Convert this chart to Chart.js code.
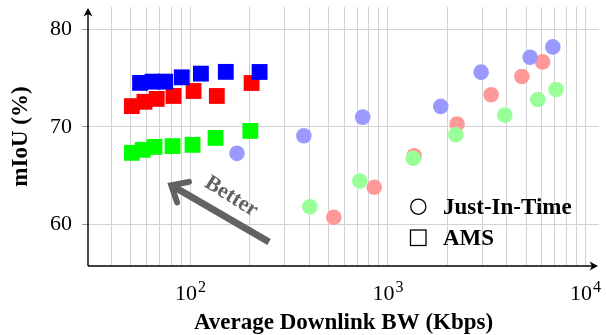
<!DOCTYPE html>
<html>
<head>
<meta charset="utf-8">
<script src="https://cdn.jsdelivr.net/npm/chart.js@4.4.0/dist/chart.umd.min.js"></script>
<style>
  html, body { margin: 0; padding: 0; background: #fff; }
  #wrap { width: 606px; height: 335px; }
</style>
</head>
<body>
<div id="wrap"><canvas id="chart" width="606" height="335"></canvas></div>
<script>
// Just-In-Time (circles)
const jitBlueBw = [172, 375, 745, 1850, 2960, 5240, 6830];
const jitBlueIou = [67.28, 69.08, 70.99, 72.09, 75.60, 77.13, 78.19];
const jitRedBw = [532, 852, 1356, 2238, 3327, 4759, 6057];
const jitRedIou = [60.73, 63.80, 67.03, 70.28, 73.28, 75.16, 76.65];
const jitGreenBw = [402, 720, 1343, 2204, 3903, 5733, 7097];
const jitGreenIou = [61.81, 64.44, 66.77, 69.18, 71.20, 72.80, 73.83];

// AMS (squares)
const amsBlueBw = [55.6, 64.3, 74.5, 90.4, 113, 151, 224];
const amsBlueIou = [74.50, 74.63, 74.63, 75.07, 75.45, 75.63, 75.62];
const amsRedBw = [50.5, 58.5, 67.5, 82.1, 103.7, 136, 204];
const amsRedIou = [72.12, 72.56, 72.86, 73.16, 73.67, 73.16, 74.49];
const amsGreenBw = [50.5, 57.4, 65.8, 81.2, 102.5, 134, 201];
const amsGreenIou = [67.33, 67.64, 67.94, 68.02, 68.15, 68.86, 69.58];

const yTicks = [60, 70, 80];
const xMajorExps = [2, 3, 4];
const legendLabels = ["Just-In-Time", "AMS"];
const xTitle = "Average Downlink BW (Kbps)";
const yTitle = "mIoU (%)";
const arrowText = "Better";

const serif = "'Liberation Serif', 'Times New Roman', serif";

// grid lines at 40..90, 100..900, 1000..9000, 10000
const xGrid = [];
[10, 100, 1000].forEach(d => {
    for (let m = 1; m <= 9; m++) {
        if (d * m >= 40) xGrid.push(d * m);
    }
});
xGrid.push(10000);

function pts(xs, ys) {
    return xs.map((x, i) => ({ x: x, y: ys[i] }));
}

function arrowHead(ctx, x, y, angle) {
    ctx.save();
    ctx.translate(x, y);
    ctx.rotate(angle);
    ctx.beginPath();
    ctx.moveTo(0, 0);
    ctx.lineTo(-8.5, -4.6);
    ctx.lineTo(-6, 0);
    ctx.lineTo(-8.5, 4.6);
    ctx.closePath();
    ctx.fillStyle = "#000";
    ctx.fill();
    ctx.restore();
}

const extrasPlugin = {
    id: "extras",
    afterDraw(chart) {
        const ctx = chart.ctx;
        const area = chart.chartArea;
        const xs = chart.scales.x;
        const ys = chart.scales.y;

        // axis lines with arrows
        ctx.save();
        ctx.strokeStyle = "#000";
        ctx.lineWidth = 1.4;
        ctx.beginPath();
        ctx.moveTo(area.left, area.bottom);
        ctx.lineTo(area.left, area.top + 3);
        ctx.moveTo(area.left, area.bottom);
        ctx.lineTo(area.right - 3, area.bottom);
        ctx.stroke();
        arrowHead(ctx, area.left, area.top + 1, -Math.PI / 2);
        arrowHead(ctx, area.right - 1, area.bottom, 0);
        ctx.restore();

        // x tick labels 10^k
        ctx.save();
        ctx.fillStyle = "#000";
        ctx.textBaseline = "alphabetic";
        xMajorExps.forEach(e => {
            const px = xs.getPixelForValue(Math.pow(10, e));
            ctx.font = "22px " + serif;
            const w1 = ctx.measureText("10").width;
            ctx.font = "16px " + serif;
            const w2 = ctx.measureText(String(e)).width;
            const start = px - (w1 + w2 + 1) / 2;
            ctx.font = "22px " + serif;
            ctx.textAlign = "left";
            ctx.fillText("10", start, area.bottom + 34);
            ctx.font = "16px " + serif;
            ctx.fillText(String(e), start + w1 + 1, area.bottom + 25.5);
        });
        ctx.restore();

        // "Better" arrow
        const tx = xs.getPixelForValue(250), ty = ys.getPixelForValue(58.2);
        const hx = xs.getPixelForValue(80), hy = ys.getPixelForValue(64.0);
        const ang = Math.atan2(hy - ty, hx - tx);
        ctx.save();
        ctx.strokeStyle = "#626262";
        ctx.lineWidth = 7;
        ctx.lineCap = "butt";
        ctx.beginPath();
        ctx.moveTo(tx, ty);
        ctx.lineTo(hx + 4 * Math.cos(ang + Math.PI), hy + 4 * Math.sin(ang + Math.PI));
        ctx.stroke();
        ctx.lineWidth = 6;
        ctx.lineJoin = "miter";
        ctx.lineCap = "round";
        const armLen = 18, spread = 0.72;
        ctx.beginPath();
        ctx.moveTo(hx - armLen * Math.cos(ang - spread), hy - armLen * Math.sin(ang - spread));
        ctx.lineTo(hx, hy);
        ctx.lineTo(hx - armLen * Math.cos(ang + spread), hy - armLen * Math.sin(ang + spread));
        ctx.stroke();

        const bx = xs.getPixelForValue(161), by = ys.getPixelForValue(62.84);
        ctx.translate(bx, by);
        ctx.rotate(0.56);
        ctx.fillStyle = "#626262";
        ctx.font = "bold 22px " + serif;
        ctx.textAlign = "center";
        ctx.textBaseline = "middle";
        ctx.fillText(arrowText, 0, 0);
        ctx.restore();

        // legend
        ctx.save();
        ctx.strokeStyle = "#000";
        ctx.lineWidth = 1.3;
        ctx.fillStyle = "#000";
        ctx.font = "bold 23px " + serif;
        ctx.textAlign = "left";
        ctx.textBaseline = "alphabetic";
        ctx.beginPath();
        ctx.arc(418.3, 206.7, 7.6, 0, Math.PI * 2);
        ctx.stroke();
        ctx.fillText(legendLabels[0], 443, 213.5);
        ctx.strokeRect(410.5, 230, 15.5, 15.5);
        ctx.fillText(legendLabels[1], 443, 244.5);
        ctx.restore();
    }
};

const squareR = 11.2;
const circleR = 7.8;

new Chart(document.getElementById("chart"), {
    type: "scatter",
    data: {
        datasets: [
            { label: "AMS blue", data: pts(amsBlueBw, amsBlueIou), pointStyle: "rect", pointRadius: squareR, backgroundColor: "#0000ff", borderWidth: 0 },
            { label: "AMS red", data: pts(amsRedBw, amsRedIou), pointStyle: "rect", pointRadius: squareR, backgroundColor: "#ff0000", borderWidth: 0 },
            { label: "AMS green", data: pts(amsGreenBw, amsGreenIou), pointStyle: "rect", pointRadius: squareR, backgroundColor: "#00ff00", borderWidth: 0 },
            { label: "JIT blue", data: pts(jitBlueBw, jitBlueIou), pointStyle: "circle", pointRadius: circleR, backgroundColor: "#9999ff", borderWidth: 0 },
            { label: "JIT green", data: pts(jitGreenBw, jitGreenIou), pointStyle: "circle", pointRadius: circleR, backgroundColor: "#99ff99", borderWidth: 0 },
            { label: "JIT red", data: pts(jitRedBw, jitRedIou), pointStyle: "circle", pointRadius: circleR, backgroundColor: "#ff9999", borderWidth: 0 }
        ]
    },
    options: {
        responsive: false,
        animation: false,
        devicePixelRatio: 1,
        layout: { autoPadding: false, padding: { left: 0, right: 7, top: 7, bottom: 0 } },
        plugins: {
            legend: { display: false },
            tooltip: { enabled: false }
        },
        scales: {
            x: {
                type: "logarithmic",
                min: 30.3,
                max: 11700,
                afterBuildTicks: s => { s.ticks = xGrid.map(v => ({ value: v })); },
                afterFit: s => { s.height = 69; s.paddingLeft = 0; s.paddingRight = 0; },
                ticks: { display: false },
                grid: { color: "#d2d2d2", lineWidth: 1, tickLength: 0 },
                border: { display: false },
                title: {
                    display: true,
                    text: xTitle,
                    color: "#000",
                    font: { family: serif, size: 23, weight: "bold", lineHeight: 1 },
                    padding: { top: 0, bottom: 0 }
                }
            },
            y: {
                min: 55.73,
                max: 82.28,
                afterBuildTicks: s => { s.ticks = yTicks.map(v => ({ value: v })); },
                afterFit: s => { s.width = 88; s.paddingTop = 0; s.paddingBottom = 0; },
                ticks: {
                    color: "#000",
                    padding: 10,
                    font: { family: serif, size: 22 }
                },
                grid: { color: "#d2d2d2", lineWidth: 1, tickLength: 6, tickColor: "#9a9a9a" },
                border: { display: false },
                title: {
                    display: true,
                    text: yTitle,
                    color: "#000",
                    font: { family: serif, size: 23, weight: "bold", lineHeight: 1 },
                    padding: { top: 10, bottom: 0 }
                }
            }
        }
    },
    plugins: [extrasPlugin]
});
</script>
</body>
</html>
